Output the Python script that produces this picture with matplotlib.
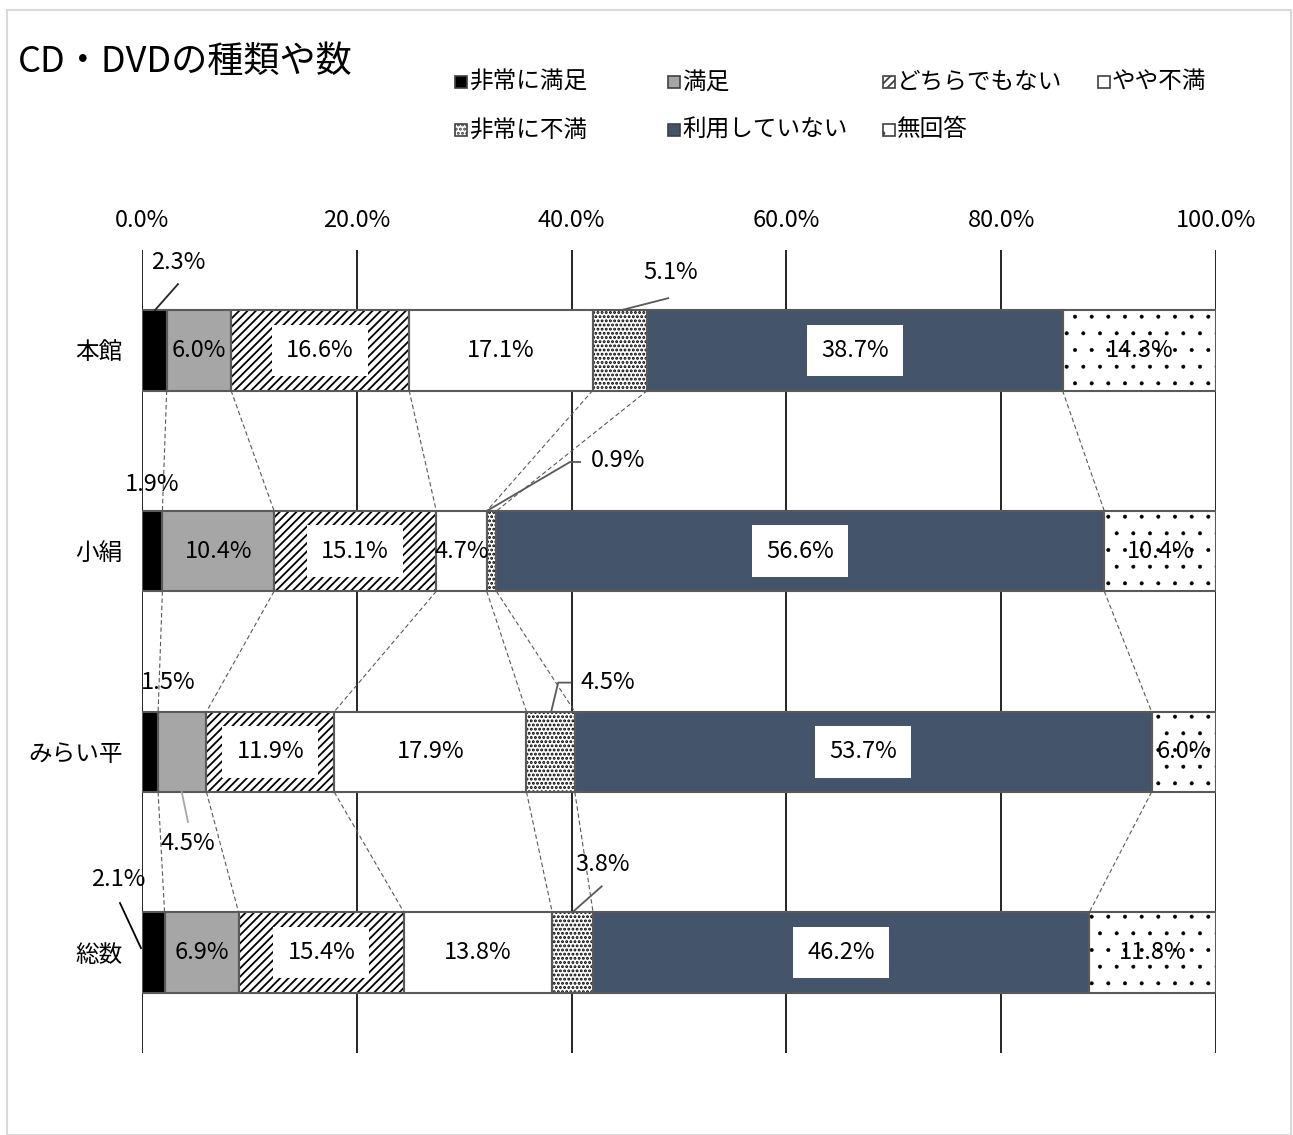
import numpy as np
import matplotlib.pyplot as plt
from matplotlib.patches import Rectangle

plt.rcParams['font.family'] = ['Noto Sans CJK JP', 'DejaVu Sans']

TITLE = "CD・DVDの種類や数"
categories = ["本館", "小絹", "みらい平", "総数"]
series_names = ["非常に満足", "満足", "どちらでもない", "やや不満",
                "非常に不満", "利用していない", "無回答"]

hijou_manzoku = [2.3, 1.9, 1.5, 2.1]
manzoku = [6.0, 10.4, 4.5, 6.9]
dochira = [16.6, 15.1, 11.9, 15.4]
yaya_fuman = [17.1, 4.7, 17.9, 13.8]
hijou_fuman = [5.1, 0.9, 4.5, 3.8]
riyou_nashi = [38.7, 56.6, 53.7, 46.2]
mukaitou = [14.3, 10.4, 6.0, 11.8]

xticks = [0, 20, 40, 60, 80, 100]

# styles per series: facecolor, hatch, hatch linewidth, white box behind label
STYLES = [
    ("#000000", None, 1.0, False),
    ("#A6A6A6", None, 1.0, False),
    ("#FFFFFF", "////", 1.3, True),
    ("#FFFFFF", None, 1.0, False),
    ("#FFFFFF", "....", 1.4, True),
    ("#44546A", None, 1.0, True),
    ("#FFFFFF", ".", 0.4, False),
]
EDGE = "#595959"
FS = 17

# labels drawn outside the bar: (category, series) -> text pos, leader points, leader colour
OUTSIDE = {
    (0, 0): ((3.35, -0.44), [(1.2, -0.2), (3.35, -0.33)], "#262626"),
    (0, 4): ((49.2, -0.39), [(44.6, -0.2), (49.0, -0.26)], "#595959"),
    (1, 0): ((0.93, 0.666), None, None),
    (1, 4): ((44.3, 0.551), [(32.1, 0.8), (39.85, 0.556), (40.8, 0.556)], "#595959"),
    (2, 0): ((2.4, 1.652), None, None),
    (2, 4): ((43.4, 1.652), [(38.1, 1.8), (38.75, 1.655), (39.9, 1.655)], "#595959"),
    (2, 1): ((4.28, 2.454), [(3.7, 2.2), (4.28, 2.349)], "#A6A6A6"),
    (3, 0): ((-2.2, 2.638), [(-2.05, 2.753), (-0.1, 2.977)], "#000000"),
    (3, 4): ((42.9, 2.56), [(40.05, 2.8), (42.8, 2.67)], "#595959"),
}


def main():
    W, H = 1293, 1135
    fig = plt.figure(figsize=(W / 100, H / 100), dpi=100)
    ax = fig.add_axes([142 / W, 1 - 1053 / H, (1216 - 142) / W, (1053 - 250) / H])

    data = np.array([hijou_manzoku, manzoku, dochira, yaya_fuman,
                     hijou_fuman, riyou_nashi, mukaitou])
    norm = data / data.sum(axis=0) * 100
    left = np.zeros(len(categories))
    y = np.arange(len(categories))
    bh = 0.4
    bounds = []
    for k, (fc, hatch, hlw, box) in enumerate(STYLES):
        # fill (hatch drawn in black), then grey outline on top
        with plt.rc_context({'hatch.linewidth': hlw}):
            ax.barh(y, norm[k], left=left, height=bh, color=fc, edgecolor="black",
                    linewidth=0, hatch=hatch, zorder=3)
        ax.barh(y, norm[k], left=left, height=bh, fill=False, edgecolor=EDGE,
                linewidth=1.5, zorder=4)
        for i in range(len(categories)):
            if (i, k) in OUTSIDE:
                (tx, ty), pts, lc = OUTSIDE[(i, k)]
                ax.text(tx, ty, f"{data[k, i]:.1f}%", ha="center", va="center",
                        fontsize=FS, zorder=6, clip_on=False)
                if pts:
                    xs, ys = zip(*pts)
                    ax.plot(xs, ys, color=lc, lw=1.3, zorder=5, clip_on=False)
                continue
            cx = left[i] + norm[k, i] / 2
            bbox = dict(boxstyle="square,pad=0.6", fc="white", ec="none") if box else None
            ax.text(cx, y[i], f"{data[k, i]:.1f}%", ha="center", va="center",
                    fontsize=FS, zorder=6, bbox=bbox)
        left = left + norm[k]
        bounds.append(left.copy())

    # series lines between bars
    for b in bounds:
        for i in range(len(categories) - 1):
            ax.plot([b[i], b[i + 1]], [i + bh / 2, i + 1 - bh / 2],
                    color="#595959", lw=0.8, ls=(0, (4, 2.5)), zorder=2)

    ax.set_xlim(0, 100)
    ax.set_ylim(3.5, -0.5)
    for v in xticks:
        ax.axvline(v, color="black", lw=1.2, zorder=1)
    ax.xaxis.tick_top()
    ax.set_xticks(xticks)
    ax.set_xticklabels([f"{v:.1f}%" for v in xticks], fontsize=FS)
    ax.set_yticks(y)
    ax.set_yticklabels(categories, fontsize=FS)
    ax.tick_params(axis="x", length=0, pad=13)
    ax.tick_params(axis="y", length=0, pad=14)
    for s in ax.spines.values():
        s.set_visible(False)

    # title
    fig.text(18 / W, 1 - 62 / H, TITLE, fontsize=26, ha="left", va="center")

    # legend laid out like the original 4-column grid
    cols = [455, 668, 883, 1098]
    rows = [82, 130]
    for k, name in enumerate(series_names):
        r, c = divmod(k, 4)
        fc, hatch, hlw, _ = STYLES[k]
        x0, y0 = cols[c], rows[r]
        with plt.rc_context({'hatch.linewidth': hlw}):
            sq = Rectangle((x0 / W, 1 - (y0 + 6) / H), 12 / W, 12 / H,
                           transform=fig.transFigure, facecolor=fc,
                           edgecolor="#404040", lw=1.2, hatch=hatch)
        fig.patches.append(sq)
        fig.text((x0 + 14) / W, 1 - y0 / H, name, fontsize=FS, ha="left", va="center")

    # outer border
    fig.patches.append(Rectangle((7 / W, 0.5 / H), (1291 - 7) / W, (H - 10.5) / H,
                                 transform=fig.transFigure, fill=False,
                                 edgecolor="#D9D9D9", lw=1.5))

    fig.savefig("out.png", dpi=100)


if __name__ == "__main__":
    main()
